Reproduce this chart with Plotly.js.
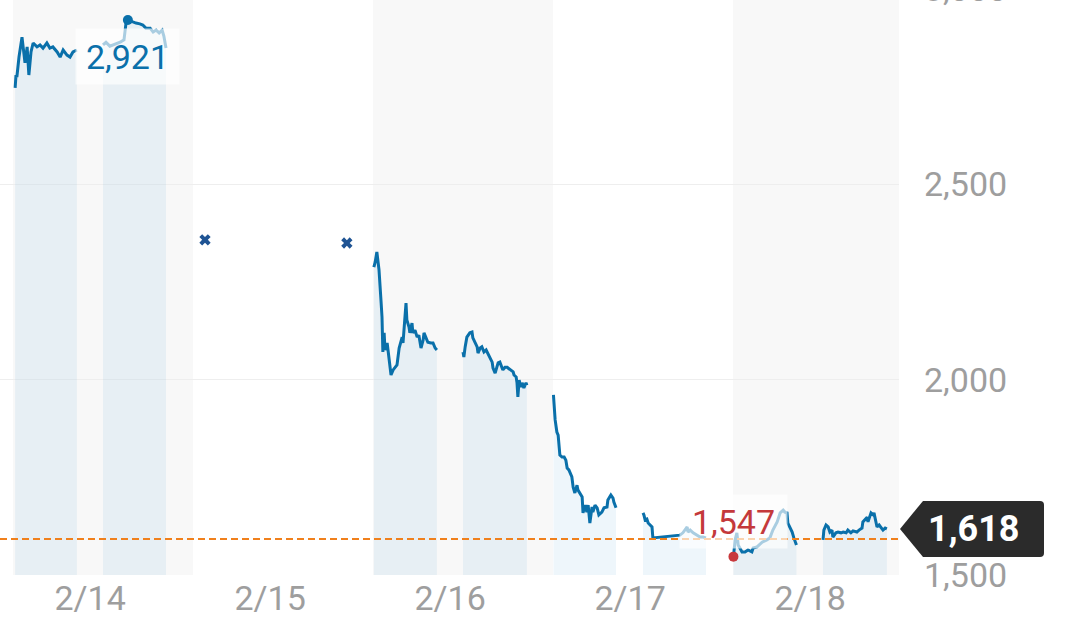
<!DOCTYPE html>
<html><head><meta charset="utf-8">
<script src="https://cdn.plot.ly/plotly-3.0.1.min.js"></script>
<style>
html,body{margin:0;padding:0;overflow:hidden;background:#fff;width:1080px;height:635px;position:relative}
#chart{position:absolute;left:0;top:-40px;width:1080px;height:675px}
</style>
</head><body><div id="chart"></div>
<script>
// ---- data (minutes after 9:00 of each trading day, price in JPY) ----
const days = ['2/14','2/15','2/16','2/17','2/18'];
const dayMinutes = 420;            // each day drawn from 9:00 to 16:00
const tickMinute = 180;            // date label placed at 12:00

const d14amT = [5,7,9,14,21,23,28,33,37,42,47,56,63,70,79,86,93,103,110,117,126,133,140,149];
const d14amV = [2747,2780,2775,2826,2877,2852,2811,2852,2780,2839,2862,2852,2857,2849,2862,2849,2852,2839,2826,2844,2831,2826,2839,2844];
const d14pmT = [210,217,226,238,250,259,264,268,278,287,296,303,310,320,327,334,341,348,352,357];
const d14pmV = [2857,2864,2854,2859,2864,2870,2916,2921,2916,2913,2911,2908,2900,2900,2890,2895,2888,2895,2880,2849];

const d15quoteT = [28,359];
const d15quoteV = [2358,2350];

const d16amT = [2,5,9,12,14,19,21,23,26,28,33,35,42,47,56,61,68,70,75,77,79,84,86,91,93,98,103,107,112,117,119,124,128,135,140,145,149];
const d16amV = [2288,2301,2327,2299,2281,2196,2160,2071,2120,2076,2094,2076,2012,2025,2038,2081,2109,2094,2153,2196,2153,2135,2120,2145,2120,2127,2109,2114,2081,2102,2120,2107,2096,2094,2094,2081,2076];
const d16pmT = [210,212,215,219,226,231,233,238,243,245,250,254,259,264,268,273,278,280,285,289,292,296,301,303,308,313,315,322,327,329,334,336,338,341,345,348,352,357,359];
const d16pmV = [2071,2058,2084,2109,2120,2122,2107,2094,2084,2068,2081,2084,2071,2076,2068,2058,2045,2030,2017,2032,2043,2045,2032,2025,2032,2032,2030,2025,2020,2012,2007,1992,1956,1999,1981,1992,1979,1992,1986];

const d17amT = [1,5,9,12,16,21,26,30,33,37,44,47,51,56,58,63,68,70,75,79,82,86,91,93,98,103,107,114,119,126,128,135,140,142,147];
const d17amV = [1961,1897,1866,1858,1807,1802,1802,1794,1774,1769,1751,1725,1710,1730,1718,1710,1700,1659,1679,1661,1679,1633,1674,1661,1679,1672,1654,1661,1672,1674,1692,1705,1697,1687,1672];
const d17pmT = [210,212,215,219,222,226,231,233,296,303,313,315,320,327,336,343,350,357];
const d17pmV = [1659,1654,1641,1643,1633,1628,1623,1595,1602,1608,1623,1610,1615,1608,1602,1597,1597,1595];

const d18amT = [1,2,5,9,12,16,21,28,35,44,47,56,68,79,86,93,103,110,117,121,126,128,133,138,142,148];
const d18amV = [1547,1559,1590,1608,1577,1569,1559,1559,1564,1559,1569,1572,1584,1590,1595,1615,1636,1659,1666,1661,1659,1633,1623,1610,1595,1577];
const d18pmT = [210,212,217,222,226,231,233,240,245,252,257,264,268,275,280,289,294,301,303,308,313,315,322,327,329,334,336,341,348,350,355,359];
const d18pmV = [1590,1615,1628,1623,1610,1615,1597,1608,1610,1608,1610,1608,1615,1608,1613,1610,1615,1620,1636,1641,1648,1636,1659,1654,1659,1633,1623,1628,1620,1615,1620,1618];

const prevClose = 1592;
const yTicks = [1500,2000,2500,3000];

// ---- build ----
const sessions = [
  [0,d14amT,d14amV],[0,d14pmT,d14pmV],
  [2,d16amT,d16amV],[2,d16pmT,d16pmV],
  [3,d17amT,d17amV],[3,d17pmT,d17pmV],
  [4,d18amT,d18amV],[4,d18pmT,d18pmV]
];
const toX = (d, ts) => ts.map(t => d*dayMinutes + t);
const LINE = '#0a70aa';
const fmt = v => v.toLocaleString('en-US');

const traces = [];
let hi = {v:-Infinity}, lo = {v:Infinity}, last = null;
sessions.forEach(([d,ts,vs]) => {
  const xs = toX(d, ts);
  traces.push({x:xs, y:vs, type:'scatter', mode:'lines', fill:'tozeroy',
    fillcolor:'rgba(85,165,215,0.1)', line:{color:LINE, width:3}, hoverinfo:'skip'});
  vs.forEach((v,i) => {
    if (v > hi.v) hi = {v, x:xs[i]};
    if (v < lo.v) lo = {v, x:xs[i]};
    last = {v, x:xs[i]};
  });
});
traces.push({x:toX(1,d15quoteT), y:d15quoteV, type:'scatter', mode:'markers',
  marker:{symbol:'x', size:10, color:'#1f5494'}, hoverinfo:'skip'});
traces.push({x:[hi.x], y:[hi.v], type:'scatter', mode:'markers',
  marker:{size:10, color:LINE}, hoverinfo:'skip'});
traces.push({x:[lo.x], y:[lo.v], type:'scatter', mode:'markers',
  marker:{size:10, color:'#c8383c'}, hoverinfo:'skip'});

const pxPerMin = 886/2067.3;
const xStart = -13/pxPerMin;
const xEnd = xStart + 899/pxPerMin;
const pxPerUnit = 0.3906;
const yTop = 1500 + 615/pxPerUnit;

const shapes = [];
[0,2,4].forEach(d => shapes.push({type:'rect', xref:'x', yref:'paper', x0:d*dayMinutes, x1:(d+1)*dayMinutes,
  y0:0, y1:1, fillcolor:'#f8f8f8', line:{width:0}, layer:'below'}));
shapes.push({type:'line', xref:'paper', yref:'y', x0:0, x1:1, y0:prevClose, y1:prevClose,
  line:{color:'#f0801c', width:2, dash:'7px,4px'}, layer:'above'});
shapes.push({type:'path', xref:'paper', xsizemode:'pixel', xanchor:1, yref:'y', ysizemode:'pixel', yanchor:last.v,
  path:'M1,0 L24,28 L141,28 Q145,28 145,24 L145,-24 Q145,-28 141,-28 L24,-28 Z',
  fillcolor:'#2b2b2b', line:{width:0}, layer:'above'});

const FONT = 'Roboto, sans-serif';
const annotations = [
  {x:hi.x, y:hi.v, xref:'x', yref:'y', text:fmt(hi.v), showarrow:false, xanchor:'center', yanchor:'top', yshift:-8,
   font:{family:FONT, size:34, color:LINE}, bgcolor:'rgba(255,255,255,0.65)', width:93, height:45, borderpad:5},
  {x:lo.x, y:lo.v, xref:'x', yref:'y', text:fmt(lo.v), showarrow:false, xanchor:'center', yanchor:'bottom', yshift:8,
   font:{family:FONT, size:34, color:'#c4393b'}, bgcolor:'rgba(255,255,255,0.65)', width:97, height:43, borderpad:5},
  {x:1, y:last.v, xref:'paper', yref:'y', text:fmt(last.v), showarrow:false, xanchor:'center', yanchor:'middle', xshift:74,
   font:{family:FONT, size:36, color:'#ffffff', weight:'bold'}}
];

const layout = {
  width:1080, height:675, margin:{l:0, r:181, t:0, b:60},
  paper_bgcolor:'#fff', plot_bgcolor:'#fff', showlegend:false,
  xaxis:{range:[xStart, xEnd], showgrid:false, zeroline:false, showline:false, ticks:'',
    tickvals:days.map((d,i)=>i*dayMinutes+tickMinute), ticktext:days,
    tickfont:{family:FONT, size:34, color:'#9e9e9e'}},
  yaxis:{side:'right', range:[1500, yTop], showgrid:true, gridcolor:'#eeeeee', gridwidth:1, zeroline:false,
    showline:false, ticks:'', tickvals:yTicks, ticktext:yTicks.map(fmt), ticklabelstandoff:24,
    tickfont:{family:FONT, size:34, color:'#9e9e9e'}},
  shapes, annotations
};
Plotly.newPlot('chart', traces, layout, {staticPlot:true, displayModeBar:false});
</script></body></html>
